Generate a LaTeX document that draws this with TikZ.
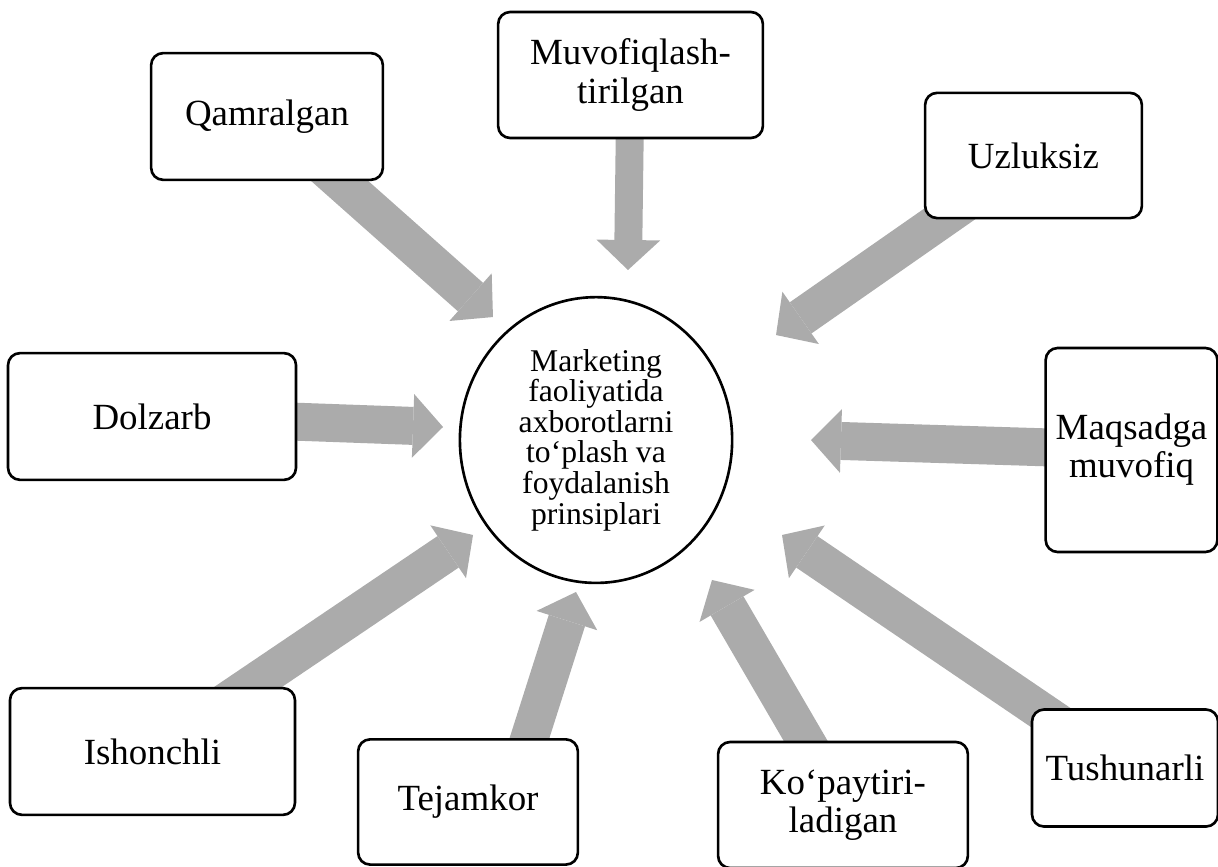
\documentclass[tikz,border=0pt]{standalone}
\usepackage{fontspec}
\setmainfont{Liberation Serif}
\usetikzlibrary{arrows.meta, shapes.geometric, backgrounds, calc}
\definecolor{arrowgray}{RGB}{171,171,171}

\begin{document}
\begin{tikzpicture}[
  item/.style={rectangle, draw, line width=1pt, rounded corners=0.16cm, fill=white, align=center, inner sep=0pt, font=\fontsize{14}{14.5}\selectfont},
  hub/.style={ellipse, draw, line width=1pt, fill=white, align=center, inner sep=0pt, minimum width=3.63cm, minimum height=3.81cm, font=\fontsize{12}{11.6}\selectfont},
  pointer/.style={draw=arrowgray, line width=14.4pt, -{Triangle[length=0.4cm, width=0.85cm, line width=0pt]}}
]
  \useasboundingbox (0,0) rectangle (16.24,-11.547);

  \node[hub] (centre) at (7.947,-5.867) {Marketing\\faoliyatida\\axborotlarni\\to‘plash va\\foydalanish\\prinsiplari};

  % Principles around the centre
  \node[item, minimum width=3.09cm, minimum height=1.69cm] (qamralgan) at (3.56,-1.553) {Qamralgan};
  \node[item, minimum width=3.53cm, minimum height=1.68cm] (muvofiq) at (8.407,-1.0) {Muvofiqlash-\\tirilgan};
  \node[item, minimum width=2.89cm, minimum height=1.67cm] (uzluksiz) at (13.78,-2.073) {Uzluksiz};
  \node[item, minimum width=3.84cm, minimum height=1.69cm] (dolzarb) at (2.027,-5.553) {Dolzarb};
  \node[item, minimum width=2.29cm, minimum height=2.72cm] (maqsadga) at (15.087,-6.0) {Maqsadga\\muvofiq};
  \node[item, minimum width=3.80cm, minimum height=1.69cm] (ishonchli) at (2.033,-10.02) {Ishonchli};
  \node[item, minimum width=2.93cm, minimum height=1.67cm] (tejamkor) at (6.24,-10.693) {Tejamkor};
  \node[item, minimum width=3.33cm, minimum height=1.68cm] (kopaytiri) at (11.24,-10.733) {Ko‘paytiri-\\ladigan};
  \node[item, minimum width=2.48cm, minimum height=1.56cm] (tushunarli) at (15.0,-10.24) {Tushunarli};

  % Arrow tips
  \coordinate (tip1) at (6.573,-4.227);
  \coordinate (tip2) at (8.373,-3.6);
  \coordinate (tip3) at (10.347,-4.467);
  \coordinate (tip4) at (5.907,-5.693);
  \coordinate (tip5) at (10.813,-5.867);
  \coordinate (tip6) at (10.427,-7.133);
  \coordinate (tip7) at (6.307,-7.133);
  \coordinate (tip8) at (7.68,-7.893);
  \coordinate (tip9) at (9.493,-7.733);

  \begin{scope}[on background layer]
    \draw[pointer] (qamralgan.center) -- (tip1);
    \draw[pointer, line width=10.6pt] (muvofiq.center) -- (tip2);
    \draw[pointer] (uzluksiz.center) -- (tip3);
    \draw[pointer] (dolzarb.center) -- (tip4);
    \draw[pointer] (maqsadga.center) -- (tip5);
    \draw[pointer] (tushunarli.center) -- (tip6);
    \draw[pointer] (ishonchli.center) -- (tip7);
    \draw[pointer] ($(tejamkor.center)!0.37!(tejamkor.east)$) -- (tip8);
    \draw[pointer] (kopaytiri.center) -- (tip9);
  \end{scope}
\end{tikzpicture}
\end{document}
